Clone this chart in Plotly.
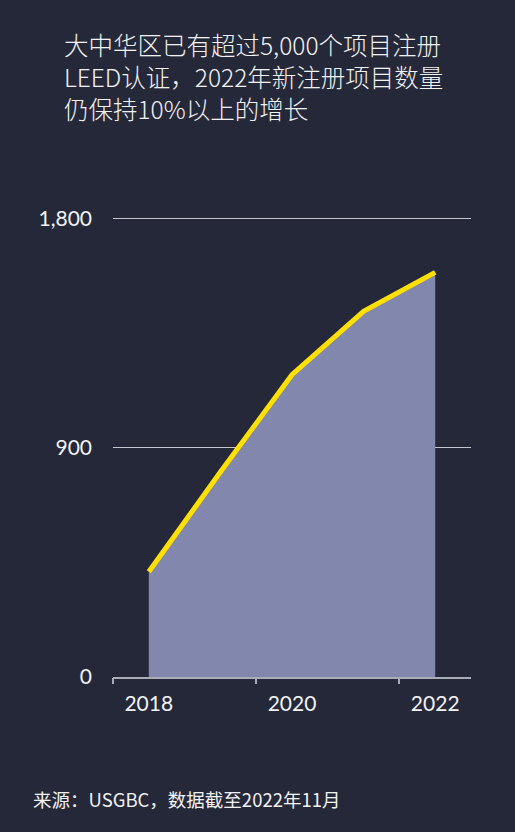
import plotly.graph_objects as go

years = [2018, 2019, 2020, 2021, 2022]
projects = [413, 805, 1187, 1436, 1589]
x_label_vals = [2018, 2020, 2022]
x_label_text = ["2018", "2020", "2022"]
x_tick_marks = [2017.5, 2019.5, 2021.5]
y_tick_vals = [0, 900, 1800]
y_tick_text = ["0", "900", "1,800"]
title_lines = [
    "大中华区已有超过5,000个项目注册",
    "LEED认证，2022年新注册项目数量",
    "仍保持10%以上的增长",
]
source_text = "来源：USGBC，数据截至2022年11月"

BG = "#252839"
FILL = "#8187AD"
LINE = "#FFE000"
AXIS = "#A9ABB6"
W, H = 515, 832
ML, MR, MT, MB = 113, 44, 211, 155

fig = go.Figure()
fig.add_trace(go.Scatter(
    x=years, y=projects, mode="lines",
    line=dict(color=LINE, width=5),
    fill="tozeroy", fillcolor=FILL,
    hoverinfo="skip", showlegend=False,
))
fig.add_trace(go.Scatter(
    x=[years[0]], y=[projects[0]], xaxis="x2", mode="markers",
    marker=dict(opacity=0), hoverinfo="skip", showlegend=False,
))

cjk = "Noto Sans CJK SC"
tickfont = dict(family="Lato, Open Sans, sans-serif", size=21, color="#F2F2F2")

fig.update_layout(
    width=W, height=H,
    margin=dict(l=ML, r=MR, t=MT, b=MB),
    paper_bgcolor=BG, plot_bgcolor=BG,
    xaxis=dict(
        range=[2017.5, 2022.5], tickvals=x_label_vals, ticktext=x_label_text,
        showgrid=False, zeroline=False, showline=True, linecolor=AXIS, linewidth=2,
        ticks="", tickfont=tickfont, ticklabelstandoff=7, fixedrange=True,
    ),
    xaxis2=dict(
        range=[2017.5, 2022.5], overlaying="x", tickvals=x_tick_marks,
        showticklabels=False, ticks="outside", ticklen=6, tickwidth=2, tickcolor=AXIS,
        showgrid=False, zeroline=False, showline=False, side="bottom",
    ),
    yaxis=dict(
        range=[0, 1830], tickvals=y_tick_vals, ticktext=y_tick_text,
        showgrid=True, gridcolor="#C4C5CC", gridwidth=1, zeroline=False,
        ticks="", tickfont=tickfont, ticklabelstandoff=20, showline=False,
    ),
    font=dict(family=cjk, color="#F2F2F2"),
)

ann = []
line_y = [44, 76, 108]
for t, yy in zip(title_lines, line_y):
    ann.append(dict(
        text=t, xref="paper", yref="paper",
        x=(62 - ML) / (W - ML - MR), y=1 + (MT - yy) / (H - MT - MB),
        xanchor="left", yanchor="middle", showarrow=False,
        font=dict(family=cjk, size=24.5, color="#F2F2F2", weight=300),
    ))
ann.append(dict(
    text=source_text, xref="paper", yref="paper",
    x=(31 - ML) / (W - ML - MR), y=-(799 - (H - MB)) / (H - MT - MB),
    xanchor="left", yanchor="middle", showarrow=False,
    font=dict(family=cjk, size=18.5, color="#F2F2F2"),
))
fig.update_layout(annotations=ann)

fig.write_html("out.html")
